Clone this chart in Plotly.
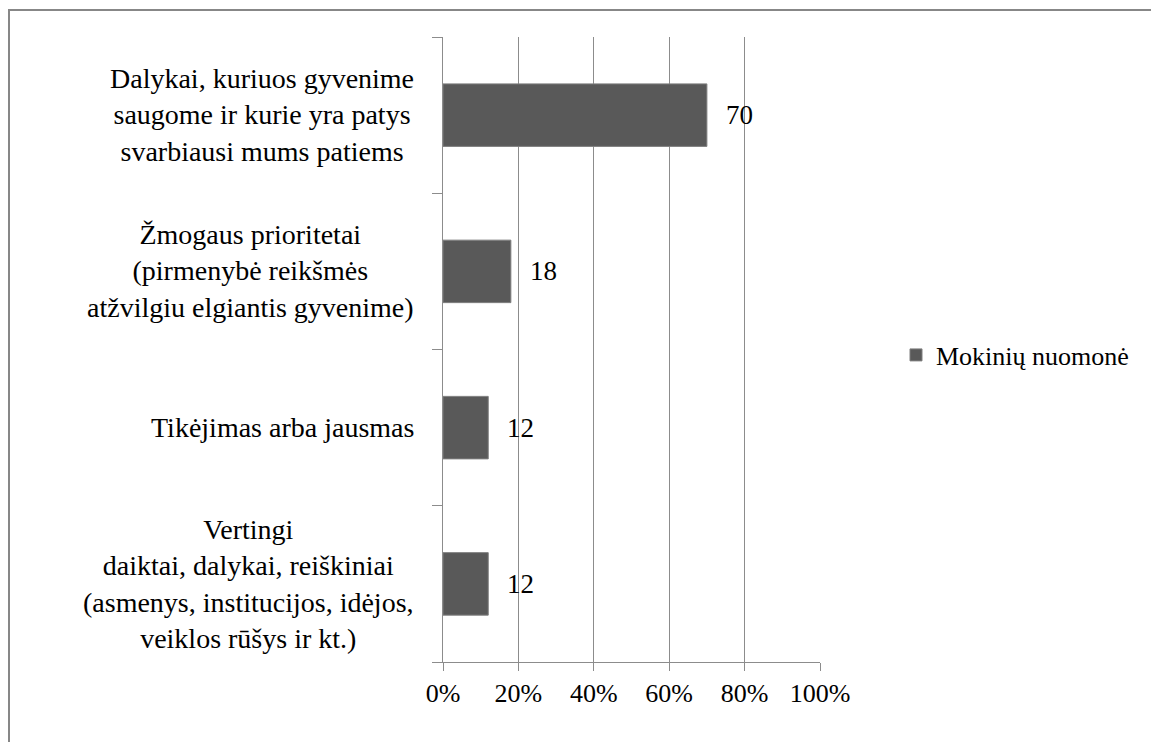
import plotly.graph_objects as go

categories = [
    "Dalykai, kuriuos gyvenime<br>saugome ir kurie yra patys<br>svarbiausi mums patiems",
    "Žmogaus prioritetai<br>(pirmenybė reikšmės<br>atžvilgiu elgiantis gyvenime)",
    "Tikėjimas arba jausmas",
    "Vertingi<br>daiktai, dalykai, reiškiniai<br>(asmenys, institucijos, idėjos,<br>veiklos rūšys ir kt.)",
]
values = [70, 18, 12, 12]
series_name = "Mokinių nuomonė"
x_ticks = [0, 20, 40, 60, 80, 100]
x_ticklabels = ["0%", "20%", "40%", "60%", "80%", "100%"]

FONT = "Liberation Serif, Tinos, Times New Roman, serif"
GRID = "#8c8c8c"

OFF = 8  # page offset of the figure in the browser
W, H = 1159, 742
L, R, T, B = 443 - OFF, 1159 - (820 - OFF), 37 - OFF, 742 - (662 - OFF)
pw, ph = W - L - R, H - T - B

def px2paper_x(px):
    return (px - OFF - L) / pw

def px2paper_y(py):
    return (H - B - (py - OFF)) / ph

fig = go.Figure()
fig.add_trace(go.Bar(
    x=values, y=categories, orientation="h", name=series_name,
    marker=dict(color="#595959", line=dict(color="#7f7f7f", width=1)),
    showlegend=True,
))

for c in categories:
    fig.add_annotation(
        x=0, xref="paper", y=c, yref="y", text=c, showarrow=False,
        xanchor="right", yanchor="middle", align="center", xshift=-27,
        font=dict(family=FONT, size=28, color="black"),
    )
for c, v in zip(categories, values):
    fig.add_annotation(
        x=v, xref="x", y=c, yref="y", text=str(v), showarrow=False,
        xanchor="left", yanchor="middle", xshift=17,
        font=dict(family=FONT, size=27, color="black"),
    )

fig.add_shape(
    type="rect", xref="paper", yref="paper",
    x0=px2paper_x(9), x1=px2paper_x(1158),
    y0=px2paper_y(770), y1=px2paper_y(10),
    line=dict(color="#878787", width=2), fillcolor="rgba(0,0,0,0)",
    layer="below",
)

fig.update_layout(
    width=W, height=H,
    margin=dict(l=L, r=R, t=T, b=B),
    paper_bgcolor="white", plot_bgcolor="white",
    bargap=0.6,
    font=dict(family=FONT, size=26, color="black"),
    legend=dict(
        x=px2paper_x(896), y=px2paper_y(355), xanchor="left", yanchor="middle",
        font=dict(family=FONT, size=26, color="black"),
        bgcolor="rgba(0,0,0,0)",
    ),
)
fig.update_xaxes(
    range=[0, 100], tickvals=x_ticks, ticktext=x_ticklabels,
    showgrid=True, gridcolor=GRID, gridwidth=1,
    showline=True, linecolor=GRID, linewidth=1,
    ticks="outside", ticklen=8, tickcolor=GRID,
    zeroline=False,
    tickfont=dict(family=FONT, size=26, color="black"),
)
fig.update_yaxes(
    categoryorder="array", categoryarray=categories[::-1],
    showticklabels=False, showgrid=False,
    showline=True, linecolor=GRID, linewidth=1,
    ticks="outside", ticklen=10, tickcolor=GRID, tickson="boundaries",
    zeroline=False,
)

fig.write_html("out.html")
